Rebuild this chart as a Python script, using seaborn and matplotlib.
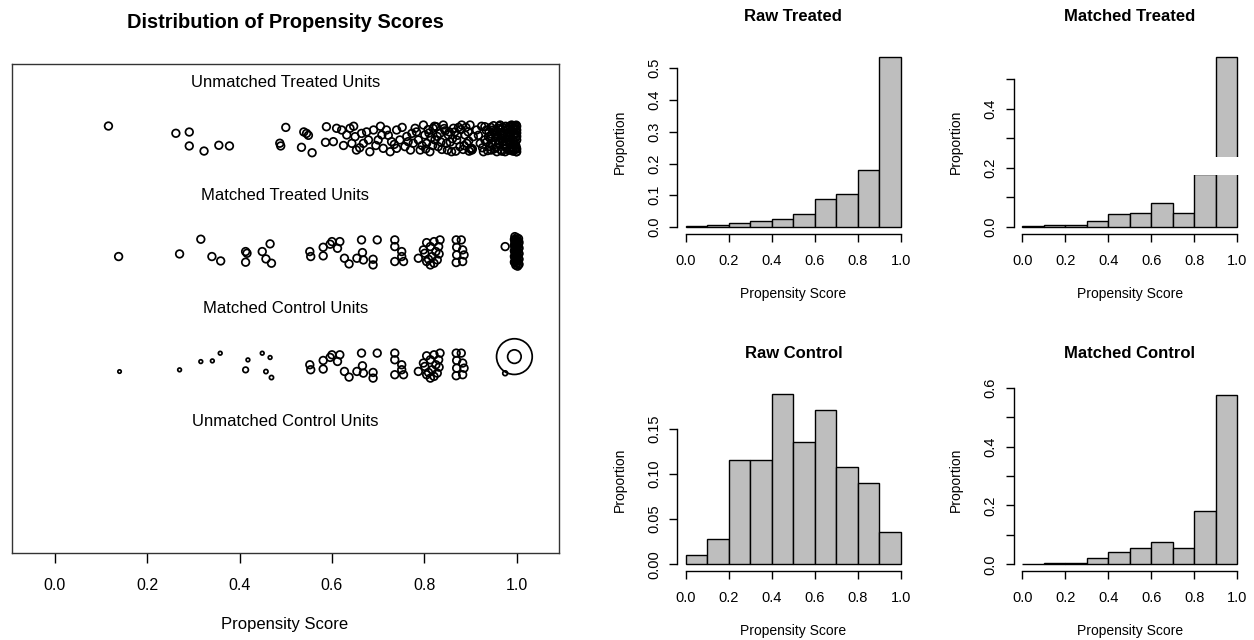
import numpy as np
import matplotlib
matplotlib.use("Agg")
import matplotlib.pyplot as plt
import seaborn as sns
from matplotlib.patches import Rectangle
from matplotlib.ticker import FormatStrFormatter

# Histogram proportions per 0.1 bin of the propensity score
bin_edges = [0.0, 0.1, 0.2, 0.3, 0.4, 0.5, 0.6, 0.7, 0.8, 0.9, 1.0]
raw_treated = [0.002, 0.005, 0.012, 0.018, 0.025, 0.040, 0.088, 0.103, 0.181, 0.535]
matched_treated = [0.002, 0.006, 0.006, 0.020, 0.043, 0.048, 0.082, 0.047, 0.180, 0.574]
raw_control = [0.010, 0.028, 0.116, 0.116, 0.188, 0.135, 0.171, 0.108, 0.090, 0.036]
matched_control = [0.002, 0.006, 0.006, 0.020, 0.043, 0.054, 0.077, 0.054, 0.180, 0.576]

# Jitter plot: propensity score and vertical jitter
unmatched_treated_x = [
    0.116, 0.262, 0.291, 0.291, 0.323, 0.355, 0.378, 0.487, 0.489, 0.500,
    0.534, 0.539, 0.545, 0.549, 0.557, 0.586, 0.588,
    0.603, 0.610, 0.621, 0.632, 0.639, 0.643, 0.650, 0.653, 0.664, 0.668,
    0.679, 0.682, 0.690, 0.700, 0.708, 0.711, 0.718, 0.726, 0.729, 0.740,
    0.740, 0.747, 0.758, 0.765, 0.773, 0.780, 0.787, 0.791, 0.798, 0.801,
    0.805, 0.812, 0.819, 0.823, 0.830, 0.834, 0.841, 0.848, 0.852, 0.859,
    0.863, 0.870, 0.877, 0.881, 0.888, 0.892, 0.899, 0.903, 0.906, 0.913,
    0.921, 0.928, 0.931, 0.939, 0.942, 0.949, 0.953, 0.957, 0.964, 0.967,
    0.971, 0.978, 0.982, 0.986, 0.989, 0.993, 0.996, 0.999, 1.000, 1.000,
    0.783, 0.795, 0.808, 0.815, 0.826, 0.838, 0.845, 0.856, 0.866, 0.874,
    0.884, 0.895, 0.902, 0.902, 0.904, 0.900,
    0.917, 0.924, 0.926, 0.935, 0.944, 0.946, 0.951, 0.958, 0.961, 0.966,
    0.970, 0.974, 0.977, 0.980, 0.984, 0.988, 0.991, 0.994, 0.997, 0.998,
    0.999, 1.000, 1.000, 0.996, 0.992, 0.985, 0.975, 0.962, 0.955, 0.940,
    0.931, 0.934, 0.937, 0.943, 0.947, 0.950, 0.954, 0.956, 0.959, 0.963,
    0.965, 0.968, 0.969, 0.972, 0.973, 0.976, 0.979, 0.981, 0.983, 0.985,
    0.987, 0.989, 0.990, 0.992, 0.993, 0.995, 0.996, 0.997, 0.998, 0.999,
    1.000, 1.000, 1.000, 0.994, 0.986, 0.978, 0.970, 0.960, 0.952, 0.945,
    0.803, 0.810, 0.818, 0.822, 0.828, 0.836, 0.843, 0.850, 0.854, 0.861,
    0.868, 0.872, 0.879, 0.886, 0.890, 0.896, 0.897,
    0.625, 0.647, 0.660, 0.675, 0.695, 0.705, 0.722, 0.735, 0.752, 0.762,
    0.770, 0.776,
]
unmatched_treated_dy = [
    0.112, 0.048, 0.059, -0.064, -0.109, -0.058, -0.064, -0.040, -0.064, 0.100,
    -0.076, 0.060, 0.047, 0.030, -0.124, -0.032, 0.106,
    -0.026, 0.092, 0.077, 0.033, 0.092, -0.041, 0.018, -0.100, 0.047, -0.041,
    -0.011, -0.115, 0.077, -0.011, 0.033, -0.085, 0.077, -0.115, -0.026, 0.077,
    -0.085, -0.011, -0.070, -0.026, 0.047, 0.092, -0.011, -0.100, 0.121, 0.033,
    -0.041, -0.115, 0.092, -0.011, -0.070, 0.047, 0.121, -0.041, 0.033, -0.115,
    0.092, -0.011, -0.070, 0.121, 0.033, -0.041, 0.121, -0.100, 0.018, 0.077,
    -0.041, -0.115, 0.106, 0.018, -0.070, 0.077, -0.026, -0.115, 0.121, 0.033,
    -0.056, 0.077, -0.011, -0.100, 0.121, 0.033, -0.056, -0.115, 0.077, -0.011,
    0.060, -0.060, 0.080, 0.010, 0.105, -0.095, 0.070, -0.030, 0.060, 0.100,
    -0.095, 0.060, -0.085, -0.095, -0.090, -0.090,
    0.030, 0.110, -0.080, -0.030, 0.100, 0.040, -0.090, 0.060, -0.040, -0.100,
    0.100, 0.010, -0.080, 0.040, 0.110, -0.040, -0.090, 0.090, 0.010, -0.060,
    0.120, 0.050, -0.090, 0.115, -0.110, 0.060, -0.115, 0.110, 0.010, 0.060,
    -0.010, 0.075, -0.105, 0.000, -0.050, 0.115, 0.045, -0.075, 0.020, -0.020,
    0.080, -0.110, 0.000, 0.050, -0.060, 0.110, -0.030, 0.085, -0.100, 0.020,
    0.100, -0.070, 0.060, -0.020, 0.115, -0.100, 0.040, -0.030, 0.085, -0.080,
    0.020, 0.110, -0.115, -0.050, -0.080, 0.000, -0.030, 0.090, 0.065, -0.100,
    -0.090, 0.050, -0.060, 0.110, 0.020, -0.030, 0.090, -0.100, 0.060, 0.000,
    -0.110, 0.030, 0.080, -0.060, 0.100, -0.020, -0.110,
    -0.060, 0.110, -0.080, 0.060, -0.060, 0.110, 0.030, -0.050, 0.100, 0.020,
    -0.100, -0.040,
]

# matched units share the same scores in both rows (x >= 0.55)
matched_common_x = [
    0.552, 0.554, 0.581, 0.581, 0.596, 0.600, 0.617, 0.612, 0.627, 0.637,
    0.654, 0.666, 0.668, 0.689, 0.689, 0.664, 0.698, 0.736, 0.736, 0.751,
    0.736, 0.755, 0.751,
    0.787, 0.801, 0.805, 0.813, 0.817, 0.821, 0.825, 0.828, 0.834, 0.813,
    0.821, 0.805, 0.832, 0.798, 0.809, 0.831,
    0.869, 0.880, 0.870, 0.883, 0.870, 0.886, 0.869, 0.883,
]
matched_common_dy = [
    0.003, -0.041, 0.041, -0.035, 0.068, 0.091, 0.091, 0.032, -0.056, -0.106,
    -0.056, -0.006, -0.071, -0.065, -0.115, 0.106, 0.106, 0.106, 0.047, 0.003,
    -0.085, -0.085, -0.041,
    -0.056, -0.012, 0.082, 0.047, -0.041, 0.091, 0.003, -0.071, 0.106, -0.115,
    -0.100, -0.085, -0.018, 0.018, -0.065, 0.047,
    0.106, 0.106, 0.041, 0.018, -0.027, -0.027, -0.094, -0.085,
]
matched_treated_x = [
    0.138, 0.270, 0.316, 0.340, 0.359, 0.413, 0.416, 0.413, 0.449, 0.466,
    0.457, 0.469, 0.975,
    0.996, 1.000, 1.004, 0.998, 1.002, 0.996, 1.000, 1.004, 0.998, 1.002,
    0.996, 1.000, 1.004, 0.998, 1.002, 0.996, 1.000, 1.004, 0.998, 1.002,
    0.996, 1.000, 1.004, 0.998, 1.002, 0.996, 1.000, 1.004, 0.998, 1.002,
    0.995, 1.005, 0.995, 1.005, 0.995, 1.005, 0.995, 1.005, 0.995, 1.005,
]
matched_treated_dy = [
    -0.041, -0.018, 0.112, -0.041, -0.080, 0.003, -0.012, -0.091, 0.003, 0.071,
    -0.062, -0.100, 0.047,
    0.135, 0.126, 0.117, 0.108, 0.099, 0.090, 0.081, 0.072, 0.063, 0.054,
    0.045, 0.036, 0.027, 0.018, 0.009, 0.000, -0.009, -0.018, -0.027, -0.036,
    -0.045, -0.054, -0.063, -0.072, -0.081, -0.090, -0.099, -0.108, -0.117, -0.126,
    0.110, 0.085, 0.060, 0.035, 0.010, -0.015, -0.040, -0.065, -0.090, -0.110,
]
matched_control_x = [
    0.140, 0.270, 0.316, 0.341, 0.358, 0.413, 0.418, 0.449, 0.466, 0.457,
    0.469, 0.995, 0.995, 0.975,
]
matched_control_dy = [
    -0.057, -0.042, 0.031, 0.037, 0.105, -0.042, 0.046, 0.105, 0.067, -0.057,
    -0.110, 0.075, 0.075, -0.072,
]
# marker area (weights) of the matched controls outside the common block
matched_control_w = [6, 7, 7, 7, 7, 16, 7, 7, 7, 9, 9, 660, 95, 12]

group_labels = ["Unmatched Treated Units", "Matched Treated Units",
                "Matched Control Units", "Unmatched Control Units"]
x_ticks = [0.0, 0.2, 0.4, 0.6, 0.8, 1.0]

W, H = 1254, 640
sns.set_theme(style="white")
plt.rcParams["font.family"] = ["Liberation Sans", "DejaVu Sans"]
plt.rcParams["text.color"] = "black"
plt.rcParams["axes.labelcolor"] = "black"

fig = plt.figure(figsize=(W / 100, H / 100), dpi=100)

# ---- left panel: jitter plot ----
ax = fig.add_axes([11.7 / W, 1 - 553 / H, (559 - 11.7) / W, (553 - 64) / H])
pt = dict(facecolor="none", edgecolor="black", linewidth=1.25, legend=False, ax=ax)
sns.scatterplot(x=unmatched_treated_x, y=3.5 + np.array(unmatched_treated_dy), s=30, **pt)
sns.scatterplot(x=matched_common_x, y=2.5 + np.array(matched_common_dy), s=30, **pt)
sns.scatterplot(x=matched_treated_x, y=2.5 + np.array(matched_treated_dy), s=30, **pt)
sns.scatterplot(x=matched_common_x, y=1.5 + np.array(matched_common_dy), s=30, **pt)
sns.scatterplot(x=matched_control_x, y=1.5 + np.array(matched_control_dy),
                s=matched_control_w, **pt)

xlim = (-0.0935, 1.0916)
ax.set_xlim(xlim)
ax.set_ylim(-0.16, 4.16)
for i, lab in enumerate(group_labels):
    ax.text(sum(xlim) / 2, 4 - i, lab, ha="center", va="center", fontsize=12)
ax.set_xticks(x_ticks)
ax.xaxis.set_major_formatter(FormatStrFormatter("%.1f"))
ax.set_yticks([])
ax.tick_params(axis="x", bottom=True, length=7, width=1, pad=11, labelsize=11.5,
               colors="black", direction="out")
for s in ax.spines.values():
    s.set_color("#333333")
    s.set_linewidth(1.0)
ax.set_xlabel("")
ax.set_ylabel("")
fig.text(285 / W, 1 - 23 / H, "Distribution of Propensity Scores", ha="center",
         va="center", fontsize=14.4, fontweight="bold")
fig.text(285 / W, 1 - 625 / H, "Propensity Score", ha="center", va="center", fontsize=12)

# ---- right panels: histograms ----
panels = [
    ("Raw Treated", raw_treated, 677.4, 50.4, [0, 0.1, 0.2, 0.3, 0.4, 0.5],
     ["0.0", "0.1", "0.2", "0.3", "0.4", "0.5"]),
    ("Matched Treated", matched_treated, 1013.7, 50.4, [0, 0.1, 0.2, 0.3, 0.4, 0.5],
     ["0.0", "", "0.2", "", "0.4", ""]),
    ("Raw Control", raw_control, 677.4, 387.7, [0, 0.05, 0.10, 0.15],
     ["0.00", "0.05", "0.10", "0.15"]),
    ("Matched Control", matched_control, 1013.7, 387.7, [0, 0.1, 0.2, 0.3, 0.4, 0.5, 0.6],
     ["0.0", "", "0.2", "", "0.4", "", "0.6"]),
]
pw, ph = 231.9, 183.4
mids = np.array(bin_edges[:-1]) + 0.05
for title, props, left, top, yt, ytl in panels:
    hx = fig.add_axes([left / W, 1 - (top + ph) / H, pw / W, ph / H])
    sns.histplot(x=mids, weights=props, bins=bin_edges, ax=hx, color="#bebebe",
                 edgecolor="black", linewidth=1.0, alpha=1)
    top_v = max(props)
    hx.set_xlim(-0.04, 1.04)
    hx.set_ylim(-0.04 * top_v, 1.04 * top_v)
    hx.set_xticks(x_ticks)
    hx.xaxis.set_major_formatter(FormatStrFormatter("%.1f"))
    hx.set_yticks(yt)
    hx.set_yticklabels(ytl, rotation=90, va="center")
    hx.tick_params(axis="both", length=5.5, width=1, labelsize=10.5, colors="black",
                   direction="out", left=True, bottom=True)
    hx.tick_params(axis="x", pad=9)
    hx.tick_params(axis="y", pad=6)
    for side in ["top", "right"]:
        hx.spines[side].set_visible(False)
    hx.spines["bottom"].set_bounds(0, 1)
    hx.spines["left"].set_bounds(yt[0], yt[-1])
    for side in ["bottom", "left"]:
        hx.spines[side].set_color("black")
        hx.spines[side].set_linewidth(1.0)
    hx.set_xlabel("")
    hx.set_ylabel("")
    hx.text(0.5, 1 + 33.7 / ph, title, transform=hx.transAxes, ha="center",
            va="center", fontsize=12, fontweight="bold")
    hx.text(0.5, -60 / ph, "Propensity Score", transform=hx.transAxes, ha="center",
            va="center", fontsize=10)
    hx.text(-58 / pw, 0.5, "Proportion", transform=hx.transAxes, ha="center",
            va="center", rotation=90, fontsize=10)
    if title == "Matched Treated":
        # white strip present in the source image
        hx.add_patch(Rectangle((0.4, 0.175), 0.7, 0.062, facecolor="white",
                               edgecolor="none", clip_on=False, zorder=5))

fig.savefig("out.png", dpi=100)
